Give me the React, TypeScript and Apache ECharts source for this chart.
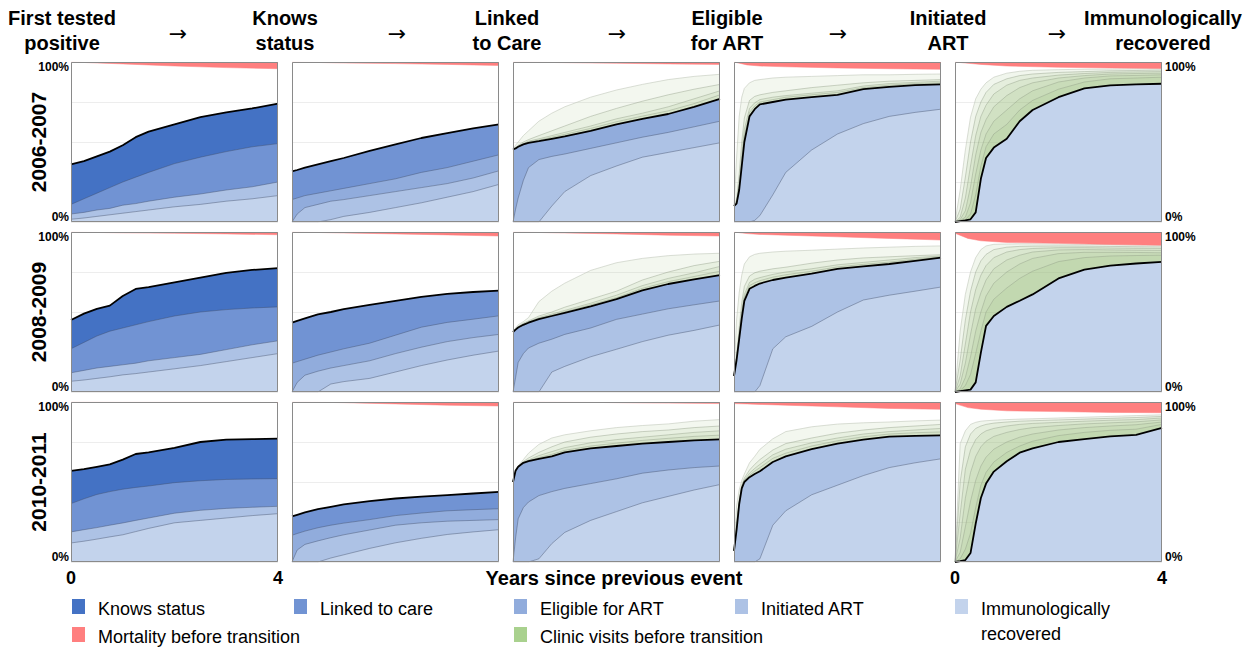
import React, { useEffect, useRef } from "react";
import * as echarts from "echarts";

// ---------- x grids (years since previous event) ----------
const X1 = [0, 0.25, 0.5, 0.75, 1, 1.25, 1.5, 2, 2.5, 3, 3.5, 4];
const X2 = [0, 0.1, 0.25, 0.5, 0.75, 1, 1.5, 2, 2.5, 3, 3.5, 4];
const X3 = [0, 0.05, 0.1, 0.2, 0.3, 0.5, 0.75, 1, 1.5, 2, 2.5, 3, 3.5, 4];
const X4 = [0, 0.05, 0.1, 0.15, 0.2, 0.3, 0.4, 0.5, 0.75, 1, 1.5, 2, 2.5, 3, 3.5, 4];
const X5 = [0, 0.1, 0.2, 0.3, 0.4, 0.5, 0.6, 0.75, 1, 1.25, 1.5, 2, 2.5, 3, 3.5, 4];
const XM = [0, 0.25, 0.5, 1, 2, 3, 4];

// ---------- labels ----------
const HEADERS = ["First tested\npositive", "Knows\nstatus", "Linked\nto Care", "Eligible\nfor ART", "Initiated\nART", "Immunologically\nrecovered"];
const ROW_LABELS = ["2006-2007", "2008-2009", "2010-2011"];
const Y_TICKS = ["0%", "100%"];
const X_TICKS = ["0", "4"];
const X_TITLE = "Years since previous event";
const LEGEND_NAMES = ["Knows status", "Linked to care", "Eligible for ART", "Initiated ART", "Immunologically\nrecovered", "Mortality before transition", "Clinic visits before transition"];

// ---------- Row 1: 2006-2007 (cumulative %) ----------
const r1c1Knows = [36, 38, 41, 44, 48, 53, 56.5, 61, 65.5, 68.5, 71, 74];
const r1c1Linked = [11, 14.5, 18, 21.5, 25, 28, 31, 36.5, 40.5, 44, 47, 49];
const r1c1Mid = [5, 6, 7.5, 8.5, 10.5, 11.5, 13, 15.5, 17.5, 20, 22, 25];
const r1c1Low = [1.7, 2.5, 3.5, 4.5, 5.5, 6.5, 7.5, 9.5, 11, 13, 14.5, 16.5];
const r1c1Mort = [0, 0.3, 0.6, 1.2, 2.5, 3.5, 4.2];

const r1c2Linked = [31.6, 32.5, 34, 36, 38, 40, 44.5, 48.5, 52.5, 55.5, 58.5, 61];
const r1c2Elig = [14, 15, 16.5, 18, 19.5, 21, 24, 27, 31, 34, 38, 42];
const r1c2Init = [0, 5, 9, 11, 13, 14, 16.5, 19, 21.5, 24, 27.5, 32];
const r1c2Rec = [0, 0, 0, 0, 1.5, 3.5, 6, 9, 12, 15.5, 19, 23.5];
const r1c2Mort = [0, 0.2, 0.3, 0.6, 1, 1.5, 2.2];

const r1c3Elig = [45.3, 46, 47, 48.5, 49.5, 50.5, 52, 53.5, 57, 61, 64.5, 67.5, 72, 77];
const r1c3Init = [0, 8, 15, 26, 34, 39, 41, 42.5, 46, 49.5, 53, 56, 59.5, 63];
const r1c3Rec = [0, 0, 0, 0, 0, 0, 10, 19, 29, 35, 40.5, 43.5, 46.5, 49.5];
const r1c3Visit1 = [45.3, 48, 50, 54, 57, 63, 68, 72, 78, 82.5, 86, 89, 91, 92.3];
const r1c3Visit2 = [45.3, 46.5, 48, 50, 51.5, 54, 57, 60, 66, 71, 75.5, 79.5, 83, 86];
const r1c3Visit3 = [45.3, 46.2, 47.5, 49, 50.5, 52, 54, 56, 60, 64.5, 68, 72, 77, 82];
const r1c3Visit4 = [45.3, 46.1, 47.2, 48.7, 50, 51.2, 53, 54.8, 58.5, 62.7, 66.2, 69.5, 74, 79.5];
const r1c3Mort = [0, 0.1, 0.2, 0.4, 0.8, 1.2, 1.5];

const r1c4Init = [10, 11.5, 20, 35, 50, 66, 70.5, 73.5, 75, 76.5, 78, 79.5, 83, 84.5, 85.5, 86];
const r1c4Rec = [0, 0, 0, 0, 0, 0, 1, 4, 17, 31, 45, 55, 61.5, 66, 68.5, 70.5];
const r1c4Visit1 = [10, 40, 66, 78, 83.5, 87, 88.5, 89, 90, 90.5, 91, 91.5, 92, 92, 92.3, 92.5];
const r1c4Visit2 = [10, 14, 30, 50, 65, 76, 78.5, 79.5, 81, 82, 84, 85.5, 87, 88, 88.5, 89];
const r1c4Visit3 = [10, 12.5, 24, 42, 58, 71, 74.5, 76.5, 78, 79, 80.5, 82, 85, 86.5, 87.3, 88];
const r1c4Visit4 = [10, 12, 22, 38, 54, 68.5, 72.5, 75, 76.5, 78, 79.5, 81, 84, 85.5, 86.5, 87];
const r1c4Mort = [0, 1.8, 2.5, 3, 3.7, 4.2, 4.6];

const r1c5Rec = [0, 0.5, 1, 1.7, 6, 27, 40, 46.5, 52, 63, 70, 78, 83.5, 85.4, 86, 86.4];
const r1c5Visit1 = [0, 20, 45, 65.5, 77, 83, 87, 90.5, 93, 94.2, 94.8, 95.2, 95.5, 95.6, 95.8, 95.8];
const r1c5Visit2 = [0, 8, 28, 50, 66, 75, 81, 86, 89.5, 91.5, 92.5, 93.5, 94, 94.5, 94.7, 95];
const r1c5Visit3 = [0, 3, 15, 35, 54, 66, 73, 80, 85.5, 88.5, 90, 91.8, 92.8, 93.5, 93.8, 94];
const r1c5Visit4 = [0, 1.5, 7, 22, 42, 56, 64, 72, 79, 84, 87, 90, 91.5, 92.5, 92.8, 93];
const r1c5Visit5 = [0, 1, 3, 12, 30, 45, 55, 63, 70, 77, 82, 87.5, 90, 91.3, 91.6, 92];
const r1c5Visit6 = [0, 0.7, 1.5, 5, 17, 35, 47, 55, 61, 70, 76, 83, 87.5, 89.5, 90, 90.5];
const r1c5Mort = [0, 0.8, 1.5, 2.5, 3.3, 3.7, 4];

// ---------- Row 2: 2008-2009 ----------
const r2c1Knows = [45, 49, 52, 54, 60, 64.4, 65.5, 68.5, 71.5, 74.5, 76.3, 77.4];
const r2c1Linked = [27, 31, 35, 38, 40, 42, 44, 47.5, 50, 51.5, 52.5, 53.2];
const r2c1Mid = [12, 13.5, 15, 16, 17, 18, 19.5, 21.5, 23.5, 26.5, 29.5, 32];
const r2c1Low = [6.7, 7.5, 8.5, 9.5, 10.7, 11.5, 12.5, 14.5, 16.5, 19, 21.5, 24];
const r2c1Mort = [0, 0.2, 0.3, 0.5, 0.8, 1.2, 1.7];

const r2c2Linked = [43.4, 44.5, 46, 48.5, 50, 51.8, 54.5, 57, 59.5, 61.3, 62.5, 63.3];
const r2c2Elig = [18, 19, 20.5, 23, 25, 27, 30.5, 35.5, 40.5, 43.5, 45.5, 47.6];
const r2c2Init = [0, 6, 10.5, 13, 15, 16.5, 19.5, 24, 28, 31.5, 34, 36];
const r2c2Rec = [0, 0, 0, 0, 5, 6.5, 8.5, 12.5, 16.5, 20, 23, 25.6];
const r2c2Mort = [0, 0.2, 0.3, 0.6, 1.2, 1.8, 2.5];

const r2c3Elig = [37.5, 39, 40.3, 42, 43.3, 45.5, 47.5, 49.5, 53.5, 58, 63.5, 67.5, 70.4, 73.1];
const r2c3Init = [0, 9, 18.5, 24, 27.5, 30.5, 33, 36, 40, 45.4, 48.7, 52, 54.5, 56.9];
const r2c3Rec = [0, 0, 0, 0, 0, 0, 12.5, 16, 22, 26.7, 31.5, 35.5, 38.5, 41.9];
const r2c3Visit1 = [37.5, 40, 42, 44, 46.5, 56.5, 63, 68, 76, 80.8, 83.5, 85.2, 86.2, 86.7];
const r2c3Visit2 = [37.5, 39.5, 41, 43, 44.5, 47.5, 50, 53, 58, 63, 70, 75, 79, 81.7];
const r2c3Visit3 = [37.5, 39.2, 40.6, 42.5, 44, 46.5, 48.7, 51, 55.5, 60.5, 66.5, 71, 74.5, 78.5];
const r2c3Visit4 = [37.5, 39.1, 40.4, 42.2, 43.6, 46, 48, 50.2, 54.5, 59, 64.8, 69, 72.2, 75.5];
const r2c3Mort = [0, 0.1, 0.3, 0.6, 1.2, 2, 2.5];

const r2c4Init = [10, 20, 33, 46, 57, 64.5, 66.3, 67.8, 70, 71.5, 74, 77, 78.5, 80, 82, 84];
const r2c4Rec = [0, 0, 0, 0, 0, 0, 0, 4, 27, 34.5, 41, 50, 57.5, 60.5, 63, 65.6];
const r2c4Visit1 = [10, 45, 62, 73, 80, 84.5, 86, 86.7, 87.5, 88, 88.6, 89.3, 90, 90.5, 91, 91.3];
const r2c4Visit2 = [10, 23, 40, 56, 66, 72.5, 74.5, 75.5, 77, 78, 80.5, 82.5, 83.8, 84.5, 85.2, 85.8];
const r2c4Visit3 = [10, 21.5, 36, 51, 61, 68.5, 70.5, 71.5, 73.5, 75, 77, 79.5, 81, 82.5, 84, 85];
const r2c4Visit4 = [10, 20.5, 34, 48, 59, 66.5, 68.3, 69.6, 71.8, 73.3, 75.5, 78.2, 79.8, 81.2, 83, 84.5];
const r2c4Mort = [0, 1, 1.5, 2, 3, 4, 5];

const r2c5Rec = [0, 0.5, 1, 1.5, 6, 24.6, 41.3, 47.5, 53.2, 57, 61, 71, 76.5, 79, 80.3, 81.3];
const r2c5Visit1 = [0, 38, 61, 75, 84, 89, 91.3, 92.3, 92.5, 92.6, 92.6, 92.5, 92.3, 92.1, 91.9, 91.7];
const r2c5Visit2 = [0, 20, 45, 63, 75, 82, 86, 89, 90.5, 91, 91.2, 91.3, 91.2, 91, 90.8, 90.7];
const r2c5Visit3 = [0, 10, 30, 50, 64, 73, 79, 84, 87.5, 89, 89.7, 90.2, 90.2, 90, 89.8, 89.7];
const r2c5Visit4 = [0, 5, 18, 36, 52, 62, 70, 77, 82.5, 85.5, 87.5, 88.8, 89, 88.8, 88.6, 88.5];
const r2c5Visit5 = [0, 2, 9, 22, 38, 50, 60, 68, 75, 80, 83.5, 86.5, 87.3, 87.3, 87.2, 87];
const r2c5Visit6 = [0, 1, 4, 11, 24, 38, 50, 58, 65, 71, 75.5, 81.5, 84, 85, 85.3, 85.5];
const r2c5Mort = [0.8, 4, 5.5, 6.5, 7.1, 7.8, 8.3];

// ---------- Row 3: 2010-2011 ----------
const r3c1Knows = [57, 58, 59.5, 61, 64, 67.5, 68.5, 71.3, 75, 76.5, 76.8, 77.1];
const r3c1Linked = [36.5, 39.5, 42.2, 44, 45.5, 46.6, 47.5, 49.6, 50.8, 51.6, 51.9, 52.1];
const r3c1Mid = [18.8, 20.2, 21.5, 23, 24.4, 26, 27.5, 30.5, 32.3, 33.5, 34.2, 34.8];
const r3c1Low = [11.9, 13, 14.3, 15.7, 17, 19, 21, 24.5, 26, 27.5, 29, 30.2];
const r3c1Mort = [0, 0, 0, 0.1, 0.1, 0.2, 0.3];

const r3c2Linked = [28.5, 29.5, 31, 33, 34.5, 36, 38, 39.7, 40.8, 41.8, 42.8, 43.8];
const r3c2Elig = [16.7, 17.8, 19.3, 21.4, 23, 24.3, 26.5, 29, 30.6, 32, 32.7, 33.3];
const r3c2Init = [0, 7.5, 11, 13.2, 15.2, 17, 20, 23, 24.5, 25.5, 26, 26.5];
const r3c2Rec = [0, 0, 0, 0, 2.5, 4.5, 8.5, 12, 14.8, 17.2, 18.8, 20.2];
const r3c2Mort = [0, 0.1, 0.2, 0.4, 1.2, 2, 2.5];

const r3c3Elig = [50, 57, 59.5, 62, 63, 64.5, 66, 68.5, 71, 72.5, 74, 75, 76, 76.6];
const r3c3Init = [0, 15, 27, 34, 37.5, 41.5, 44, 46, 49, 52, 55.5, 57.5, 59, 60];
const r3c3Rec = [0, 0, 0, 0, 0, 2, 11.5, 18.5, 26, 31.5, 37, 41, 45, 48.4];
const r3c3Visit1 = [50, 58, 60, 64, 68, 73.5, 77.5, 79.5, 82, 84, 85.3, 86.3, 88, 89];
const r3c3Visit2 = [50, 57.5, 59.8, 62.8, 65, 68.5, 72, 75, 78, 80, 81.5, 82.5, 84, 85];
const r3c3Visit3 = [50, 57.2, 59.6, 62.3, 63.8, 66.5, 69, 71.5, 74.5, 76.5, 78, 79.5, 81, 82];
const r3c3Visit4 = [50, 57.1, 59.5, 62.1, 63.3, 65.3, 67.3, 69.8, 72.5, 74.3, 76, 77.3, 78.5, 79.3];
const r3c3Mort = [0, 0, 0, 0.1, 0.4, 0.7, 1];

const r3c4Init = [7, 20, 36, 46, 50, 53, 55, 56.7, 62.5, 66, 70.5, 74, 76.5, 78.3, 78.8, 79.1];
const r3c4Rec = [0, 0, 0, 0, 0, 0, 0, 2, 23, 32, 42, 48, 54, 59, 62, 64.5];
const r3c4Visit1 = [7, 35, 45, 51, 55, 62, 66, 70.4, 77, 81.5, 84.5, 86.2, 87, 87.5, 88.2, 88.7];
const r3c4Visit2 = [7, 24, 39, 48, 52.5, 57.5, 61, 64, 70, 74, 77.5, 80.5, 82.5, 84, 85, 86];
const r3c4Visit3 = [7, 22, 37.5, 47, 51.3, 55.5, 58.5, 61, 67, 70.5, 74.5, 77.5, 80, 81.5, 82.5, 83.5];
const r3c4Visit4 = [7, 21, 36.8, 46.5, 50.6, 54.2, 56.8, 59, 64.8, 68, 72.5, 75.8, 78.3, 80, 80.8, 81.3];
const r3c4Mort = [1, 1.2, 1.5, 2, 3, 4, 4.6];

const r3c5Rec = [0, 0.5, 1.2, 5.6, 24, 40, 49, 56.5, 63, 68.3, 71, 75, 76.8, 78.5, 79.5, 83.9];
const r3c5Visit1 = [0, 74, 82, 86, 87.3, 88, 88.3, 88.6, 89, 89.3, 89.5, 90, 90.5, 91, 91.5, 92];
const r3c5Visit2 = [0, 50, 72, 80, 83.5, 85, 86, 86.8, 87.5, 88, 88.3, 88.8, 89.3, 89.8, 90.3, 91];
const r3c5Visit3 = [0, 30, 58, 70, 76.5, 80, 82, 83.5, 85, 86, 86.6, 87.3, 88, 88.6, 89, 90];
const r3c5Visit4 = [0, 15, 40, 56, 66, 72, 75.5, 78.5, 81, 82.8, 84, 85.3, 86.3, 87, 87.6, 88.8];
const r3c5Visit5 = [0, 6, 22, 38, 51, 60, 65.5, 70.5, 75, 78, 80, 82.5, 84, 85, 85.8, 87.5];
const r3c5Visit6 = [0, 2, 8, 18, 34, 48, 56, 62.5, 68.5, 72.5, 75.5, 79, 81, 82.3, 83, 86];
const r3c5Mort = [1, 3.5, 4.5, 5.5, 6, 6.5, 6.7];

// ---------- colours ----------
const C_KNOWS = "#4472C4";
const C_LINK = "#7193D3";
const C_ELIG = "#91ACDC";
const C_INIT = "#ADC2E5";
const C_REC = "#C3D3EC";
const C_MORT = "#FF7F7F";
const C_GREEN = "#A9D18E";
const LEGEND_COLORS = [C_KNOWS, C_LINK, C_ELIG, C_INIT, C_REC, C_MORT, C_GREEN];
const COL_COLORS = [
  [C_KNOWS, C_LINK, C_INIT, C_REC],
  [C_LINK, C_ELIG, C_INIT, C_REC],
  [C_ELIG, C_INIT, C_REC],
  [C_INIT, C_REC],
  [C_REC],
];
const COL_X = [X1, X2, X3, X4, X5];

type Panel = { row: number; col: number; layers: number[][]; greens: number[][]; mort: number[] };
const PANELS: Panel[] = [
  { row: 0, col: 0, layers: [r1c1Knows, r1c1Linked, r1c1Mid, r1c1Low], greens: [], mort: r1c1Mort },
  { row: 0, col: 1, layers: [r1c2Linked, r1c2Elig, r1c2Init, r1c2Rec], greens: [], mort: r1c2Mort },
  { row: 0, col: 2, layers: [r1c3Elig, r1c3Init, r1c3Rec], greens: [r1c3Visit1, r1c3Visit2, r1c3Visit3, r1c3Visit4], mort: r1c3Mort },
  { row: 0, col: 3, layers: [r1c4Init, r1c4Rec], greens: [r1c4Visit1, r1c4Visit2, r1c4Visit3, r1c4Visit4], mort: r1c4Mort },
  { row: 0, col: 4, layers: [r1c5Rec], greens: [r1c5Visit1, r1c5Visit2, r1c5Visit3, r1c5Visit4, r1c5Visit5, r1c5Visit6], mort: r1c5Mort },
  { row: 1, col: 0, layers: [r2c1Knows, r2c1Linked, r2c1Mid, r2c1Low], greens: [], mort: r2c1Mort },
  { row: 1, col: 1, layers: [r2c2Linked, r2c2Elig, r2c2Init, r2c2Rec], greens: [], mort: r2c2Mort },
  { row: 1, col: 2, layers: [r2c3Elig, r2c3Init, r2c3Rec], greens: [r2c3Visit1, r2c3Visit2, r2c3Visit3, r2c3Visit4], mort: r2c3Mort },
  { row: 1, col: 3, layers: [r2c4Init, r2c4Rec], greens: [r2c4Visit1, r2c4Visit2, r2c4Visit3, r2c4Visit4], mort: r2c4Mort },
  { row: 1, col: 4, layers: [r2c5Rec], greens: [r2c5Visit1, r2c5Visit2, r2c5Visit3, r2c5Visit4, r2c5Visit5, r2c5Visit6], mort: r2c5Mort },
  { row: 2, col: 0, layers: [r3c1Knows, r3c1Linked, r3c1Mid, r3c1Low], greens: [], mort: r3c1Mort },
  { row: 2, col: 1, layers: [r3c2Linked, r3c2Elig, r3c2Init, r3c2Rec], greens: [], mort: r3c2Mort },
  { row: 2, col: 2, layers: [r3c3Elig, r3c3Init, r3c3Rec], greens: [r3c3Visit1, r3c3Visit2, r3c3Visit3, r3c3Visit4], mort: r3c3Mort },
  { row: 2, col: 3, layers: [r3c4Init, r3c4Rec], greens: [r3c4Visit1, r3c4Visit2, r3c4Visit3, r3c4Visit4], mort: r3c4Mort },
  { row: 2, col: 4, layers: [r3c5Rec], greens: [r3c5Visit1, r3c5Visit2, r3c5Visit3, r3c5Visit4, r3c5Visit5, r3c5Visit6], mort: r3c5Mort },
];

// ---------- layout ----------
const PANEL_LEFT = [71, 292, 513, 734, 955];
const PANEL_TOP = [62, 232, 402];
const PW = 207;
const PH = 160;
const FONT = '"Liberation Sans", Arial, "DejaVu Sans", sans-serif';

const pairs = (xs: number[], ys: number[]) => xs.map((x, i) => [x, ys[i]]);

function buildOption() {
  const grid: any[] = [];
  const xAxis: any[] = [];
  const yAxis: any[] = [];
  const series: any[] = [];
  const graphic: any[] = [];

  PANELS.forEach((p, idx) => {
    const left = PANEL_LEFT[p.col];
    const top = PANEL_TOP[p.row];
    grid.push({ left, top, width: PW, height: PH, show: true, backgroundColor: "#fff", borderWidth: 0 });
    xAxis.push({ type: "value", gridIndex: idx, min: 0, max: 4, show: false });
    yAxis.push({
      type: "value", gridIndex: idx, min: 0, max: 100, interval: 25,
      axisLabel: { show: false }, axisLine: { show: false }, axisTick: { show: false },
      splitLine: { show: true, lineStyle: { color: "#ededed", width: 1 } },
    });
    const xs = COL_X[p.col];
    const base = { type: "line", xAxisIndex: idx, yAxisIndex: idx, symbol: "none", showSymbol: false, silent: true, animation: false, smooth: false };
    const gOpacity = p.col === 4 ? 0.14 : 0.12;
    p.greens.forEach((g, gi) => {
      series.push({
        ...base, data: pairs(xs, g), z: 2,
        areaStyle: { color: "#9cbf7c", opacity: gOpacity, origin: "start" },
        lineStyle: { color: gi === 0 ? "#c4cbbd" : "#8f9b85", width: 0.7, opacity: gi === 0 ? 0.9 : 0.6 },
      });
    });
    const colors = COL_COLORS[p.col];
    p.layers.forEach((l, li) => {
      series.push({
        ...base, data: pairs(xs, l), z: 3,
        areaStyle: { color: colors[li], opacity: 1, origin: "start" },
        lineStyle: li === 0 ? { color: "#000", width: 1.8 } : { color: "#3e4b66", width: 0.7, opacity: 0.6 },
      });
    });
    series.push({
      ...base, data: pairs(XM, p.mort.map((m) => 100 - m)), z: 4,
      areaStyle: { color: C_MORT, opacity: 1, origin: "end" },
      lineStyle: { color: C_MORT, width: 0.5 },
    });
    graphic.push({
      type: "rect", z: 100, silent: true,
      shape: { x: left + 0.5, y: top + 0.5, width: PW - 1, height: PH - 1 },
      style: { fill: "none", stroke: "#8a8a8a", lineWidth: 1 },
    });
  });

  // headers
  const headerX = [62, 285, 507, 727, 948, 1163];
  HEADERS.forEach((h, i) => {
    graphic.push({
      type: "text", x: headerX[i], y: 5, z: 100,
      style: { text: h, font: `bold 20px ${FONT}`, fill: "#000", align: "center", verticalAlign: "top", lineHeight: 25 },
    });
  });
  const arrowX = [178, 397, 617, 838, 1057];
  arrowX.forEach((x) => {
    graphic.push({
      type: "text", x, y: 33, z: 100,
      style: { text: "→", font: '22px "DejaVu Sans", sans-serif', fill: "#000", align: "center", verticalAlign: "middle" },
    });
  });

  // row labels and y ticks
  ROW_LABELS.forEach((r, i) => {
    const top = PANEL_TOP[i];
    graphic.push({
      type: "text", x: 38, y: top + PH / 2, rotation: Math.PI / 2, z: 100,
      style: { text: r, font: `bold 21px ${FONT}`, fill: "#000", align: "center", verticalAlign: "middle" },
    });
    const yFont = `bold 12px ${FONT}`;
    graphic.push({ type: "text", x: 69, y: top - 1, z: 100, style: { text: Y_TICKS[1], font: yFont, fill: "#000", align: "right", verticalAlign: "top" } });
    graphic.push({ type: "text", x: 69, y: top + PH + 1, z: 100, style: { text: Y_TICKS[0], font: yFont, fill: "#000", align: "right", verticalAlign: "bottom" } });
    graphic.push({ type: "text", x: 1165, y: top - 1, z: 100, style: { text: Y_TICKS[1], font: yFont, fill: "#000", align: "left", verticalAlign: "top" } });
    graphic.push({ type: "text", x: 1165, y: top + PH + 1, z: 100, style: { text: Y_TICKS[0], font: yFont, fill: "#000", align: "left", verticalAlign: "bottom" } });
  });

  // x ticks
  const xt: [number, string][] = [
    [PANEL_LEFT[0], X_TICKS[0]], [PANEL_LEFT[0] + PW, X_TICKS[1]],
    [PANEL_LEFT[4], X_TICKS[0]], [PANEL_LEFT[4] + PW, X_TICKS[1]],
  ];
  xt.forEach(([x, t]) => {
    graphic.push({ type: "text", x, y: 578, z: 100, style: { text: t, font: `bold 18px ${FONT}`, fill: "#000", align: "center", verticalAlign: "middle" } });
  });
  graphic.push({ type: "text", x: 614, y: 578, z: 100, style: { text: X_TITLE, font: `bold 20px ${FONT}`, fill: "#000", align: "center", verticalAlign: "middle" } });

  // legend
  const legPos = [
    [72, 608], [294, 608], [514, 608], [735, 608], [955, 608], [72, 636], [514, 636],
  ];
  LEGEND_NAMES.forEach((n, i) => {
    const [x, y] = legPos[i];
    graphic.push({ type: "rect", z: 100, shape: { x, y: y - 9, width: 13, height: 15 }, style: { fill: LEGEND_COLORS[i] } });
    const twoLine = n.indexOf("\n") >= 0;
    graphic.push({
      type: "text", x: x + 26, y: twoLine ? y - 12 : y + 1, z: 100,
      style: { text: n, font: `18px ${FONT}`, fill: "#000", align: "left", verticalAlign: twoLine ? "top" : "middle", lineHeight: 25 },
    });
  });

  return { animation: false, backgroundColor: "#fff", grid, xAxis, yAxis, series, graphic };
}

export default function App() {
  const ref = useRef<HTMLDivElement>(null);
  useEffect(() => {
    document.body.style.margin = "0";
    const chart = echarts.init(ref.current as HTMLDivElement, null, { renderer: "svg" });
    chart.setOption(buildOption() as any);
    return () => chart.dispose();
  }, []);
  return <div ref={ref} style={{ width: 1256, height: 649 }} />;
}
